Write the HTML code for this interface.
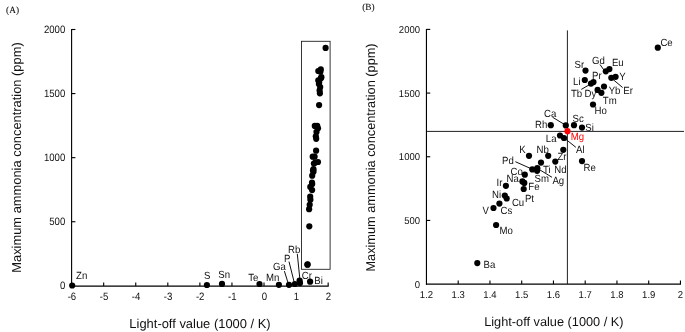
<!DOCTYPE html>
<html><head><meta charset="utf-8"><title>Figure</title>
<style>
html,body{margin:0;padding:0;background:#fff;}
svg{display:block;}
text{font-family:"Liberation Sans",sans-serif;fill:#111;text-rendering:geometricPrecision;}
.ser{font-family:"Liberation Serif",serif;stroke:#111;stroke-width:0.1px;}
</style></head><body>
<svg width="685" height="332" viewBox="0 0 685 332">
<rect width="685" height="332" fill="#fff"/>
<text x="6.10" y="13.10" font-size="9.3" class="ser">(A)</text>
<text x="362.20" y="9.60" font-size="9.3" class="ser">(B)</text>
<g stroke="#000" stroke-width="1.12" fill="none">
<path d="M71.6 29.0 V286.70"/>
<path d="M71.1 286.1 H328.71" stroke-width="1.3"/>
<path d="M71.6 29.50 H75.40"/>
<path d="M71.6 93.58 H75.40"/>
<path d="M71.6 157.65 H75.40"/>
<path d="M71.6 221.73 H75.40"/>
<path d="M103.67 286.1 V282.50"/>
<path d="M135.74 286.1 V282.50"/>
<path d="M167.81 286.1 V282.50"/>
<path d="M199.88 286.1 V282.50"/>
<path d="M231.95 286.1 V282.50"/>
<path d="M264.02 286.1 V282.50"/>
<path d="M296.09 286.1 V282.50"/>
<path d="M328.16 286.1 V282.50"/>
</g>
<text transform="translate(65.30 33.10) scale(0.9 1)" font-size="10.7" text-anchor="end">2000</text>
<text transform="translate(65.30 97.17) scale(0.9 1)" font-size="10.7" text-anchor="end">1500</text>
<text transform="translate(65.30 161.25) scale(0.9 1)" font-size="10.7" text-anchor="end">1000</text>
<text transform="translate(65.30 225.33) scale(0.9 1)" font-size="10.7" text-anchor="end">500</text>
<text transform="translate(65.30 289.40) scale(0.9 1)" font-size="10.7" text-anchor="end">0</text>
<text transform="translate(71.90 300.10) scale(0.9 1)" font-size="10.7" text-anchor="middle">-6</text>
<text transform="translate(103.97 300.10) scale(0.9 1)" font-size="10.7" text-anchor="middle">-5</text>
<text transform="translate(136.04 300.10) scale(0.9 1)" font-size="10.7" text-anchor="middle">-4</text>
<text transform="translate(168.11 300.10) scale(0.9 1)" font-size="10.7" text-anchor="middle">-3</text>
<text transform="translate(200.18 300.10) scale(0.9 1)" font-size="10.7" text-anchor="middle">-2</text>
<text transform="translate(232.25 300.10) scale(0.9 1)" font-size="10.7" text-anchor="middle">-1</text>
<text transform="translate(264.32 300.10) scale(0.9 1)" font-size="10.7" text-anchor="middle">0</text>
<text transform="translate(296.39 300.10) scale(0.9 1)" font-size="10.7" text-anchor="middle">1</text>
<text transform="translate(328.46 300.10) scale(0.9 1)" font-size="10.7" text-anchor="middle">2</text>
<text x="200.00" y="327.50" font-size="12.93" text-anchor="middle">Light-off value (1000 / K)</text>
<text transform="translate(20.60 157.50) rotate(-90)" font-size="12.88" text-anchor="middle">Maximum ammonia concentration (ppm)</text>
<rect x="301.5" y="41.3" width="28.6" height="228" fill="none" stroke="#222" stroke-width="0.9"/>
<g stroke="#111" stroke-width="1">
<line x1="284.4" y1="271.1" x2="288.0" y2="282.7"/>
<line x1="289.0" y1="261.6" x2="294.3" y2="282.7"/>
<line x1="297.3" y1="253.8" x2="299.9" y2="279.5"/>
</g>
<g fill="#000">
<circle cx="325.6" cy="47.9" r="3.1"/>
<circle cx="318.3" cy="71.0" r="3.1"/>
<circle cx="320.4" cy="71.7" r="3.1"/>
<circle cx="320.8" cy="69.4" r="3.1"/>
<circle cx="318.3" cy="80.4" r="3.1"/>
<circle cx="318.9" cy="84.0" r="3.1"/>
<circle cx="319.2" cy="82.5" r="3.1"/>
<circle cx="320.9" cy="78.2" r="3.1"/>
<circle cx="321.4" cy="77.2" r="3.1"/>
<circle cx="320.2" cy="87.0" r="3.1"/>
<circle cx="319.6" cy="90.4" r="3.1"/>
<circle cx="319.9" cy="93.3" r="3.1"/>
<circle cx="319.1" cy="105.1" r="3.1"/>
<circle cx="316.4" cy="126.1" r="3.1"/>
<circle cx="317.2" cy="125.9" r="3.1"/>
<circle cx="318.0" cy="128.3" r="3.1"/>
<circle cx="314.8" cy="125.9" r="3.1"/>
<circle cx="315.8" cy="136.3" r="3.1"/>
<circle cx="316.2" cy="138.8" r="3.1"/>
<circle cx="316.1" cy="150.7" r="3.1"/>
<circle cx="312.7" cy="156.7" r="3.1"/>
<circle cx="314.6" cy="156.7" r="3.1"/>
<circle cx="315.3" cy="162.5" r="3.1"/>
<circle cx="313.9" cy="163.5" r="3.1"/>
<circle cx="318.0" cy="162.0" r="3.1"/>
<circle cx="313.0" cy="170.4" r="3.1"/>
<circle cx="313.5" cy="169.2" r="3.1"/>
<circle cx="313.5" cy="171.8" r="3.1"/>
<circle cx="312.2" cy="175.7" r="3.1"/>
<circle cx="312.0" cy="182.5" r="3.1"/>
<circle cx="312.2" cy="184.0" r="3.1"/>
<circle cx="312.1" cy="190.1" r="3.1"/>
<circle cx="310.3" cy="186.9" r="3.1"/>
<circle cx="310.2" cy="196.7" r="3.1"/>
<circle cx="310.4" cy="199.7" r="3.1"/>
<circle cx="309.7" cy="204.8" r="3.1"/>
<circle cx="309.1" cy="209.2" r="3.1"/>
<circle cx="309.3" cy="226.3" r="3.1"/>
<circle cx="307.4" cy="264.7" r="3.1"/>
<circle cx="316.5" cy="131.9" r="3.1"/>
<circle cx="72.2" cy="285.5" r="3.1"/>
<circle cx="206.9" cy="285.0" r="3.1"/>
<circle cx="222.0" cy="283.9" r="3.1"/>
<circle cx="259.5" cy="284.0" r="3.1"/>
<circle cx="278.9" cy="284.8" r="3.1"/>
<circle cx="289.0" cy="284.8" r="3.1"/>
<circle cx="294.9" cy="284.0" r="3.1"/>
<circle cx="299.6" cy="280.6" r="3.1"/>
<circle cx="300.0" cy="283.1" r="3.1"/>
<circle cx="310.1" cy="281.7" r="3.1"/>
<circle cx="307.6" cy="264.4" r="3.1"/>
</g>
<text transform="translate(76.10 278.70) scale(0.925 1)" font-size="10.4">Zn</text>
<text transform="translate(204.10 279.00) scale(0.925 1)" font-size="10.4">S</text>
<text transform="translate(218.30 277.80) scale(0.925 1)" font-size="10.4">Sn</text>
<text transform="translate(248.20 280.80) scale(0.925 1)" font-size="10.4">Te</text>
<text transform="translate(266.10 281.20) scale(0.925 1)" font-size="10.4">Mn</text>
<text transform="translate(273.10 270.10) scale(0.925 1)" font-size="10.4">Ga</text>
<text transform="translate(284.00 261.60) scale(0.925 1)" font-size="10.4">P</text>
<text transform="translate(288.00 252.80) scale(0.925 1)" font-size="10.4">Rb</text>
<text transform="translate(301.70 278.90) scale(0.925 1)" font-size="10.4">Cr</text>
<text transform="translate(314.30 283.90) scale(0.925 1)" font-size="10.4">Bi</text>
<g stroke="#000" stroke-width="1.12" fill="none">
<path d="M426.45 28.9 V284.70"/>
<path d="M425.95 284.1 H681.00" stroke-width="1.3"/>
<path d="M426.45 29.40 H430.25"/>
<path d="M426.45 93.08 H430.25"/>
<path d="M426.45 156.75 H430.25"/>
<path d="M426.45 220.43 H430.25"/>
<path d="M458.20 284.1 V280.50"/>
<path d="M489.95 284.1 V280.50"/>
<path d="M521.70 284.1 V280.50"/>
<path d="M553.45 284.1 V280.50"/>
<path d="M585.20 284.1 V280.50"/>
<path d="M616.95 284.1 V280.50"/>
<path d="M648.70 284.1 V280.50"/>
<path d="M680.45 284.1 V280.50"/>
</g>
<g stroke="#151515" stroke-width="0.95" fill="none">
<path d="M567.4 30.4 V284"/>
<path d="M426.5 131.4 H684"/>
</g>
<text transform="translate(420.00 33.00) scale(0.95 1)" font-size="10.0" text-anchor="end">2000</text>
<text transform="translate(420.00 96.67) scale(0.95 1)" font-size="10.0" text-anchor="end">1500</text>
<text transform="translate(420.00 160.35) scale(0.95 1)" font-size="10.0" text-anchor="end">1000</text>
<text transform="translate(420.00 224.03) scale(0.95 1)" font-size="10.0" text-anchor="end">500</text>
<text transform="translate(420.00 287.70) scale(0.95 1)" font-size="10.0" text-anchor="end">0</text>
<text transform="translate(426.45 298.30) scale(0.95 1)" font-size="10.0" text-anchor="middle">1.2</text>
<text transform="translate(458.20 298.30) scale(0.95 1)" font-size="10.0" text-anchor="middle">1.3</text>
<text transform="translate(489.95 298.30) scale(0.95 1)" font-size="10.0" text-anchor="middle">1.4</text>
<text transform="translate(521.70 298.30) scale(0.95 1)" font-size="10.0" text-anchor="middle">1.5</text>
<text transform="translate(553.45 298.30) scale(0.95 1)" font-size="10.0" text-anchor="middle">1.6</text>
<text transform="translate(585.20 298.30) scale(0.95 1)" font-size="10.0" text-anchor="middle">1.7</text>
<text transform="translate(616.95 298.30) scale(0.95 1)" font-size="10.0" text-anchor="middle">1.8</text>
<text transform="translate(648.70 298.30) scale(0.95 1)" font-size="10.0" text-anchor="middle">1.9</text>
<text transform="translate(680.45 298.30) scale(0.95 1)" font-size="10.0" text-anchor="middle">2</text>
<text x="553.90" y="326.00" font-size="12.75" text-anchor="middle">Light-off value (1000 / K)</text>
<text transform="translate(375.00 157.50) rotate(-90)" font-size="12.75" text-anchor="middle">Maximum ammonia concentration (ppm)</text>
<g stroke="#111" stroke-width="1">
<line x1="600.0" y1="64.5" x2="604.0" y2="70.2"/>
<line x1="612.8" y1="79.3" x2="622.6" y2="87.5"/>
<line x1="581.3" y1="89.4" x2="590.0" y2="84.4"/>
<line x1="552.5" y1="117.2" x2="564.5" y2="124.5"/>
<line x1="565.3" y1="138.9" x2="575.9" y2="147.3"/>
<line x1="515.4" y1="161.7" x2="531.5" y2="168.9"/>
<line x1="538.3" y1="168.9" x2="552.0" y2="177.3"/>
</g>
<g fill="#000">
<circle cx="657.8" cy="47.7" r="3.1"/>
<circle cx="585.5" cy="70.6" r="3.1"/>
<circle cx="605.8" cy="71.3" r="3.1"/>
<circle cx="609.4" cy="69.1" r="3.1"/>
<circle cx="584.8" cy="80.0" r="3.1"/>
<circle cx="591.0" cy="83.6" r="3.1"/>
<circle cx="593.5" cy="82.1" r="3.1"/>
<circle cx="611.3" cy="77.8" r="3.1"/>
<circle cx="615.6" cy="76.8" r="3.1"/>
<circle cx="604.0" cy="86.5" r="3.1"/>
<circle cx="597.6" cy="89.9" r="3.1"/>
<circle cx="601.4" cy="92.8" r="3.1"/>
<circle cx="593.0" cy="104.5" r="3.1"/>
<circle cx="565.8" cy="125.4" r="3.1"/>
<circle cx="574.0" cy="125.2" r="3.1"/>
<circle cx="582.0" cy="127.6" r="3.1"/>
<circle cx="550.8" cy="125.2" r="3.1"/>
<circle cx="560.0" cy="135.5" r="3.1"/>
<circle cx="564.0" cy="138.0" r="3.1"/>
<circle cx="563.3" cy="149.8" r="3.1"/>
<circle cx="529.0" cy="155.8" r="3.1"/>
<circle cx="548.2" cy="155.8" r="3.1"/>
<circle cx="555.3" cy="161.6" r="3.1"/>
<circle cx="541.0" cy="162.6" r="3.1"/>
<circle cx="582.0" cy="161.1" r="3.1"/>
<circle cx="532.3" cy="169.4" r="3.1"/>
<circle cx="537.3" cy="168.2" r="3.1"/>
<circle cx="537.1" cy="170.8" r="3.1"/>
<circle cx="524.8" cy="174.7" r="3.1"/>
<circle cx="522.4" cy="181.4" r="3.1"/>
<circle cx="524.3" cy="182.9" r="3.1"/>
<circle cx="523.7" cy="189.0" r="3.1"/>
<circle cx="505.9" cy="185.8" r="3.1"/>
<circle cx="504.8" cy="195.6" r="3.1"/>
<circle cx="506.7" cy="198.5" r="3.1"/>
<circle cx="499.4" cy="203.6" r="3.1"/>
<circle cx="493.5" cy="208.0" r="3.1"/>
<circle cx="496.1" cy="225.0" r="3.1"/>
<circle cx="477.3" cy="263.1" r="3.1"/>
</g>
<circle cx="567.5" cy="131.2" r="3.1" fill="#f00"/>
<text transform="translate(660.40 45.50) scale(0.925 1)" font-size="10.4">Ce</text>
<text transform="translate(574.60 68.40) scale(0.925 1)" font-size="10.4">Sr</text>
<text transform="translate(592.10 63.80) scale(0.925 1)" font-size="10.4">Gd</text>
<text transform="translate(611.90 65.80) scale(0.925 1)" font-size="10.4">Eu</text>
<text transform="translate(573.10 84.60) scale(0.925 1)" font-size="10.4">Li</text>
<text transform="translate(592.10 78.50) scale(0.925 1)" font-size="10.4">Pr</text>
<text transform="translate(619.20 80.20) scale(0.925 1)" font-size="10.4">Y</text>
<text transform="translate(623.30 93.50) scale(0.925 1)" font-size="10.4">Er</text>
<text transform="translate(608.70 93.50) scale(0.925 1)" font-size="10.4">Yb</text>
<text transform="translate(570.90 97.00) scale(0.925 1)" font-size="10.4">Tb</text>
<text transform="translate(584.50 97.00) scale(0.925 1)" font-size="10.4">Dy</text>
<text transform="translate(602.80 104.20) scale(0.925 1)" font-size="10.4">Tm</text>
<text transform="translate(594.60 114.20) scale(0.925 1)" font-size="10.4">Ho</text>
<text transform="translate(544.00 116.90) scale(0.925 1)" font-size="10.4">Ca</text>
<text transform="translate(572.50 122.00) scale(0.925 1)" font-size="10.4">Sc</text>
<text transform="translate(585.30 131.00) scale(0.925 1)" font-size="10.4">Si</text>
<text transform="translate(535.00 127.90) scale(0.925 1)" font-size="10.4">Rh</text>
<text transform="translate(545.80 141.80) scale(0.925 1)" font-size="10.4">La</text>
<text transform="translate(576.00 152.60) scale(0.925 1)" font-size="10.4">Al</text>
<text transform="translate(519.20 152.80) scale(0.925 1)" font-size="10.4">K</text>
<text transform="translate(536.50 152.50) scale(0.925 1)" font-size="10.4">Nb</text>
<text transform="translate(557.50 159.80) scale(0.925 1)" font-size="10.4">Zr</text>
<text transform="translate(583.50 171.30) scale(0.925 1)" font-size="10.4">Re</text>
<text transform="translate(502.10 164.00) scale(0.925 1)" font-size="10.4">Pd</text>
<text transform="translate(543.10 173.00) scale(0.925 1)" font-size="10.4">Ti</text>
<text transform="translate(554.20 173.20) scale(0.925 1)" font-size="10.4">Nd</text>
<text transform="translate(552.40 184.30) scale(0.925 1)" font-size="10.4">Ag</text>
<text transform="translate(510.60 175.20) scale(0.925 1)" font-size="10.4">Co</text>
<text transform="translate(534.50 182.20) scale(0.925 1)" font-size="10.4">Sm</text>
<text transform="translate(506.60 181.90) scale(0.925 1)" font-size="10.4">Na</text>
<text transform="translate(528.30 189.90) scale(0.925 1)" font-size="10.4">Fe</text>
<text transform="translate(496.60 186.20) scale(0.925 1)" font-size="10.4">Ir</text>
<text transform="translate(492.00 198.00) scale(0.925 1)" font-size="10.4">Ni</text>
<text transform="translate(524.90 201.60) scale(0.925 1)" font-size="10.4">Pt</text>
<text transform="translate(511.90 205.80) scale(0.925 1)" font-size="10.4">Cu</text>
<text transform="translate(500.50 214.00) scale(0.925 1)" font-size="10.4">Cs</text>
<text transform="translate(482.60 213.80) scale(0.925 1)" font-size="10.4">V</text>
<text transform="translate(499.50 234.10) scale(0.925 1)" font-size="10.4">Mo</text>
<text transform="translate(483.50 267.80) scale(0.925 1)" font-size="10.4">Ba</text>
<text transform="translate(570.70 140.30) scale(0.925 1)" font-size="10.4" style="fill:#f00">Mg</text>
</svg>
</body></html>
